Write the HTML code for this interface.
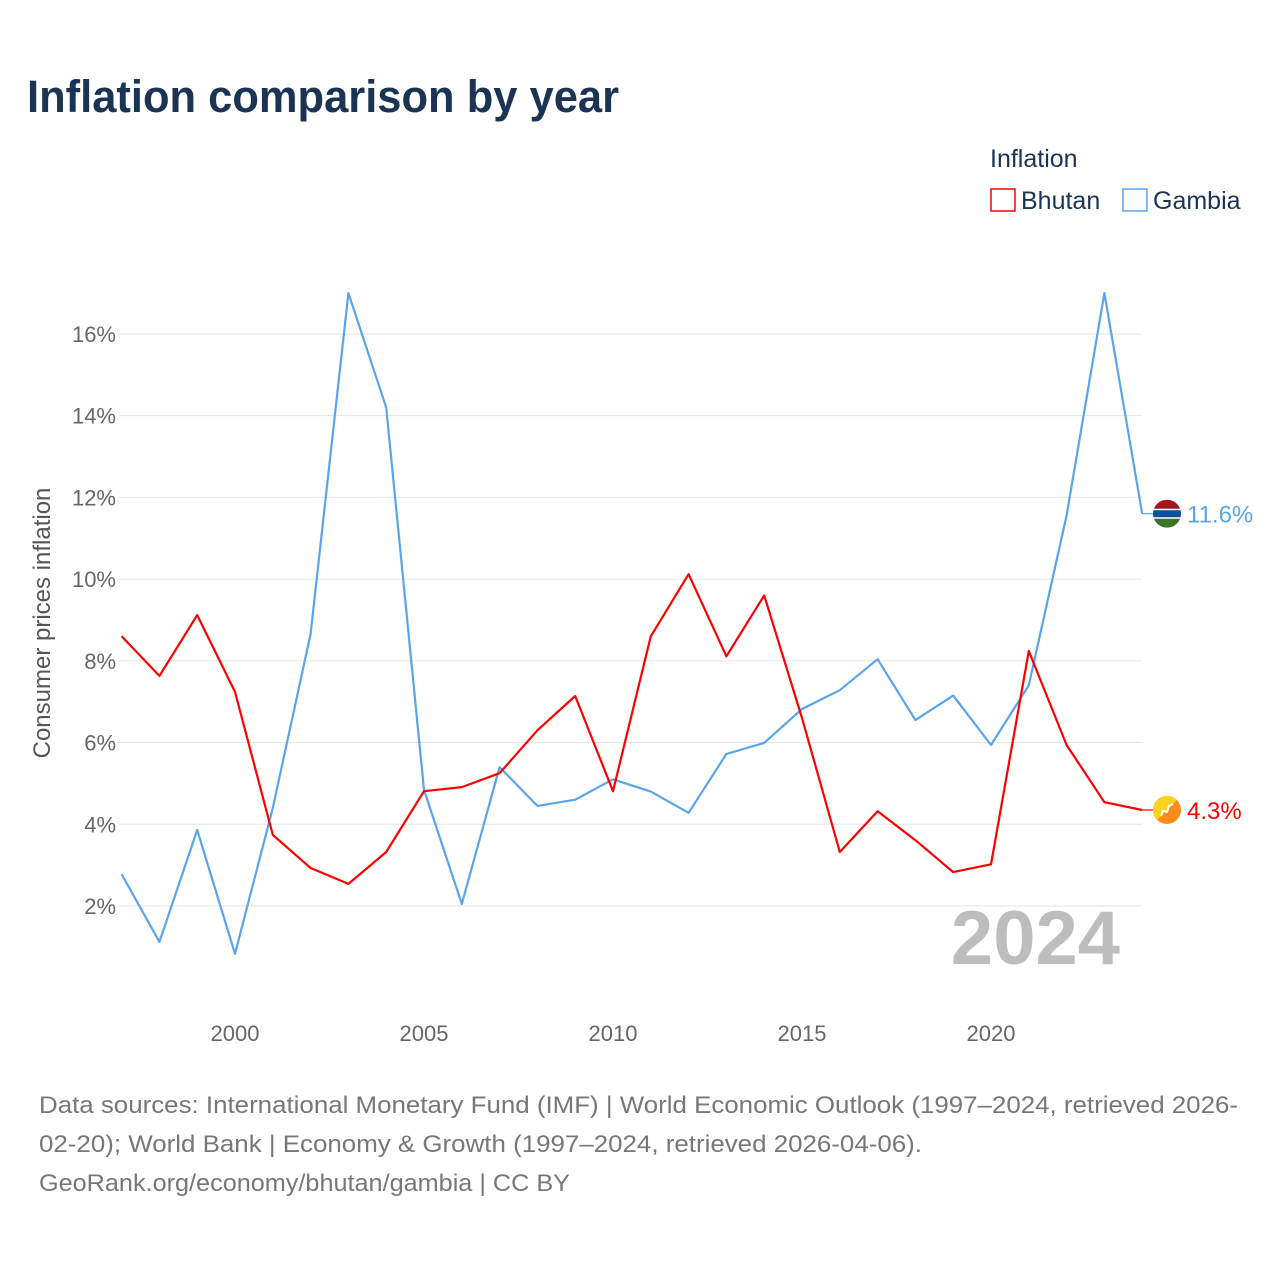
<!DOCTYPE html>
<html><head><meta charset="utf-8">
<style>
body{margin:0;background:#fff;}
svg text{font-family:"Liberation Sans",sans-serif;}
</style></head>
<body>
<svg id="chart" width="1280" height="1280" viewBox="0 0 1280 1280" xmlns="http://www.w3.org/2000/svg">
<rect width="1280" height="1280" fill="#fff"/>
<text x="27" y="112" font-size="45" font-weight="bold" fill="#1b3453" textLength="592" lengthAdjust="spacingAndGlyphs">Inflation comparison by year</text>
<g>
<text x="990" y="167" font-size="25" fill="#1b3453">Inflation</text>
<g><rect x="991" y="189" width="24" height="22" fill="none" stroke="#f00" stroke-width="1.5"/><text x="1021" y="209" font-size="25" fill="#1b3453">Bhutan</text></g>
<g><rect x="1123" y="189" width="24" height="22" fill="none" stroke="#5aa5ea" stroke-width="1.5"/><text x="1153" y="209" font-size="25" fill="#1b3453">Gambia</text></g>
</g>
<g id="grid"></g>
<g id="yticks"></g>
<g id="xticks"></g>
<text x="0" y="0" transform="translate(50,623) rotate(-90)" text-anchor="middle" font-size="24" fill="#555">Consumer prices inflation</text>
<text x="1120" y="964" text-anchor="end" font-size="76" font-weight="bold" fill="#bdbdbd">2024</text>
<g id="series"></g>
<g font-size="24" fill="#777">
<text x="39" y="1113" textLength="1199" lengthAdjust="spacingAndGlyphs">Data sources: International Monetary Fund (IMF) | World Economic Outlook (1997–2024, retrieved 2026-</text>
<text x="39" y="1152" textLength="883" lengthAdjust="spacingAndGlyphs">02-20); World Bank | Economy &amp; Growth (1997–2024, retrieved 2026-04-06).</text>
<text x="39" y="1191" textLength="531" lengthAdjust="spacingAndGlyphs">GeoRank.org/economy/bhutan/gambia | CC BY</text>
</g>
</svg>
<script>
const years=[1997,1998,1999,2000,2001,2002,2003,2004,2005,2006,2007,2008,2009,2010,2011,2012,2013,2014,2015,2016,2017,2018,2019,2020,2021,2022,2023,2024];
const bhutan=[8.6,7.63,9.12,7.24,3.74,2.93,2.54,3.32,4.81,4.91,5.25,6.3,7.14,4.81,8.6,10.12,8.11,9.6,6.6,3.32,4.32,3.61,2.83,3.02,8.24,5.94,4.54,4.35];
const gambia=[2.78,1.12,3.86,0.83,4.4,8.66,17.0,14.2,4.84,2.05,5.4,4.45,4.6,5.1,4.8,4.28,5.72,5.99,6.82,7.28,8.04,6.55,7.15,5.94,7.4,11.56,17.0,11.6];
const yTicks=[2,4,6,8,10,12,14,16];
const xTicks=[2000,2005,2010,2015,2020];
const NS="http://www.w3.org/2000/svg";
const x=v=>121.6+(v-1997)*37.8;
const y=v=>987.7-v*40.86;
function mk(t,a,p){const e=document.createElementNS(NS,t);for(const k in a)e.setAttribute(k,a[k]);p.appendChild(e);return e;}
const grid=document.getElementById('grid'),yt=document.getElementById('yticks'),xt=document.getElementById('xticks'),ser=document.getElementById('series');
yTicks.forEach(v=>{
 const l=mk('line',{x1:118,x2:1142,y1:y(v),y2:y(v),stroke:'#e6e6e6','stroke-width':1},grid);
 
 
 const t=mk('text',{x:116,y:y(v)+8,'text-anchor':'end','font-size':22,fill:'#666'},yt);
 t.textContent=v+'%';
 
 
});
xTicks.forEach(v=>{
 const t=mk('text',{x:x(v),y:1041,'text-anchor':'middle','font-size':22,fill:'#666'},xt);
 t.textContent=v;
 
 
});
function line(vals,color,name){
 const d=vals.map((v,i)=>(i?'L':'M')+x(years[i]).toFixed(1)+','+y(v).toFixed(1)).join('');
 const p=mk('path',{d:d,fill:'none',stroke:color,'stroke-width':2.2,'stroke-linejoin':'round'},ser);
 
 
 const last=vals[vals.length-1],ly=y(last),lx=x(years[years.length-1]);
 const c=mk('line',{x1:lx,x2:1154,y1:ly,y2:ly,stroke:color,'stroke-width':1.2},ser);
 
 
 const t=mk('text',{x:1187,y:ly+9,'font-size':24,fill:color},ser);
 t.textContent=last.toFixed(1)+'%';
 
 
 return ly;
}
const gy=line(gambia,'#5aa5ea','gambia');
const by=line(bhutan,'#f00','bhutan');
const gf=mk('g',{},ser);


const cp=mk('clipPath',{id:'gc'},gf);mk('circle',{cx:1167,cy:gy,r:14},cp);
const gg=mk('g',{'clip-path':'url(#gc)'},gf);
mk('rect',{x:1153,y:gy-14,width:28,height:10,fill:'#a0151f'},gg);
mk('rect',{x:1153,y:gy-4,width:28,height:8,fill:'#0c4ea2'},gg);
mk('rect',{x:1153,y:gy-5,width:28,height:1.5,fill:'#fff'},gg);
mk('rect',{x:1153,y:gy+3.5,width:28,height:1.5,fill:'#fff'},gg);
mk('rect',{x:1153,y:gy+5,width:28,height:9,fill:'#3a7728'},gg);
const bf=mk('g',{},ser);


const cp2=mk('clipPath',{id:'bc'},bf);mk('circle',{cx:1167,cy:by,r:14},cp2);
const bg=mk('g',{'clip-path':'url(#bc)'},bf);
mk('rect',{x:1153,y:by-14,width:28,height:28,fill:'#ff8c1a'},bg);
mk('path',{d:`M1153,${by+14} L1181,${by-14} L1153,${by-14} Z`,fill:'#ffd21f'},bg);
mk('path',{d:`M1161,${by+6} L1163,${by+1} L1167,${by+2} L1169,${by-4} L1173,${by-6}`,fill:'none',stroke:'#fff','stroke-width':2},bg);
</script>
</body></html>
